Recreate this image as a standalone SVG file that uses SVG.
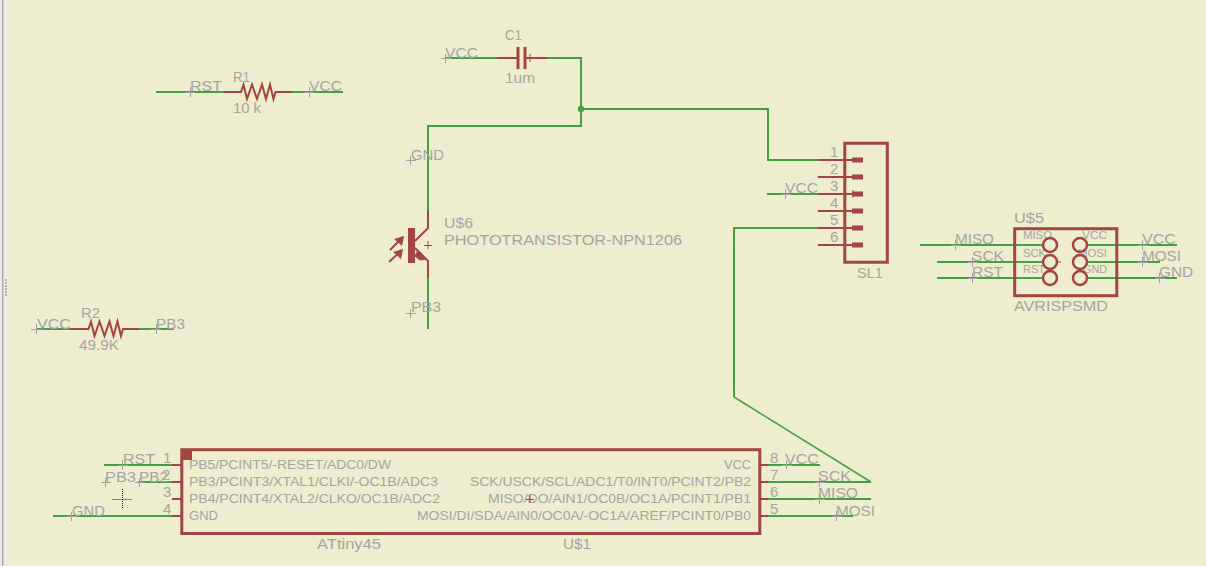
<svg xmlns="http://www.w3.org/2000/svg" width="1206" height="566" viewBox="0 0 1206 566">
<defs><style>
text{font-family:"Liberation Sans",Arial,sans-serif;fill:#a5a5a2;font-size:15px}
.s{font-size:13px}
.x{font-size:11.500px}
.w{fill:none;stroke:#45a045;stroke-width:2}
.t{fill:none;stroke:#45a045;stroke-width:1.6}
.r{fill:none;stroke:#a34640;stroke-width:2}
.b{fill:none;stroke:#a34640;stroke-width:3}
.c{fill:none;stroke:#a3a3a0;stroke-width:1}
.h{fill:none;stroke:#a34640;stroke-width:1}
</style></defs>
<rect width="1206" height="566" fill="#eeedcf"/>
<rect width="9" height="566" fill="#ecebe5"/>
<rect x="2" width="1.4" height="566" fill="#a8a8a8"/>
<path d="M5 279h2v2h-2zM5 282h2v2h-2zM5 285h2v2h-2zM5 288h2v2h-2zM5 291h2v2h-2zM5 294h2v2h-2z" fill="#b5b5b0"/>

<g id="connectors">
<path class="w" d="M445 58H497M547 58H581V126H428V211M581 109H768V160H819M428 278V329"/>
<circle cx="581" cy="109" r="3.200" fill="#45a045"/>
<path class="w" d="M156 92H224M292 92H343M36 329H71M139 329H174"/>
<path class="w" d="M767 194H819"/>
<path class="w" d="M819 228H734V397"/>
<path class="t" d="M734 397L871 482"/>
<path class="w" d="M104 465H172M138 482H172M53 516H172"/>
<path class="w" d="M768 465H820M768 482H871M768 499H871M768 516H853"/>
<path class="w" d="M920 245H1043M937 262H1043M937 278H1043M1087 245H1177M1087 262H1160M1087 278H1177"/>
</g>

<g id="C1">
<path class="r" d="M497 58H518M525 58H547"/>
<path class="b" d="M518 47V69M525 47V69"/>
<path class="h" d="M530 54V62"/>
<text x="505" y="40" textLength="17" lengthAdjust="spacingAndGlyphs">C1</text>
<text x="505" y="83" textLength="30" lengthAdjust="spacingAndGlyphs">1um</text>
<text x="445" y="58" textLength="33" lengthAdjust="spacingAndGlyphs">VCC</text>
<path class="c" d="M441 58.500H451M445.500 54V63"/>
</g>

<g id="R1">
<path class="r" d="M224 92H241L243.500 84.500L247 99L252 84.500L257 99L262 84.500L266 99L270 84.500L273.500 99L275.500 92H292"/>
<text x="233" y="82" textLength="17" lengthAdjust="spacingAndGlyphs">R1</text>
<text x="233" y="113" textLength="28" lengthAdjust="spacingAndGlyphs">10 k</text>
<text x="190" y="91" textLength="32" lengthAdjust="spacingAndGlyphs">RST</text>
<text x="309" y="91" textLength="33" lengthAdjust="spacingAndGlyphs">VCC</text>
<path class="c" d="M190.500 87V97M185 92.500H195M309.500 87V97M304 92.500H314"/>
</g>

<g id="R2">
<path class="r" d="M71 329H88.500L91 321.500L94.500 336L99.500 321.500L104.500 336L109.500 321.500L113.500 336L117.500 321.500L121 336L123 329H139"/>
<text x="81" y="318" textLength="19" lengthAdjust="spacingAndGlyphs">R2</text>
<text x="79" y="350" textLength="40" lengthAdjust="spacingAndGlyphs">49.9K</text>
<text x="37" y="328.500" textLength="34" lengthAdjust="spacingAndGlyphs">VCC</text>
<text x="156" y="328.500" textLength="29" lengthAdjust="spacingAndGlyphs">PB3</text>
<path class="c" d="M36.500 324V334M31 329.500H41M156.500 324V334M151 329.500H161"/>
</g>

<g id="U6">
<path class="r" d="M428 211V228L415 241M415 248L428 261V278"/>
<rect x="408" y="228" width="7" height="35" fill="#a34640"/>
<path d="M418 250L426 259L420 260L415 256Z" fill="#a34640" stroke="#a34640"/>
<path class="r" d="M390 250L403 237M389 262L402 250"/>
<path d="M404 236L402 246L394 239ZM403 249L401 259L393 252Z" fill="#a34640"/>
<path class="h" d="M428 241V249M424 245.500H432"/>
<text x="444" y="228" textLength="29" lengthAdjust="spacingAndGlyphs">U$6</text>
<text x="444" y="245" textLength="238" lengthAdjust="spacingAndGlyphs">PHOTOTRANSISTOR-NPN1206</text>
<text x="411" y="160" textLength="33" lengthAdjust="spacingAndGlyphs">GND</text>
<text x="411" y="312" textLength="30" lengthAdjust="spacingAndGlyphs">PB3</text>
<path class="c" d="M410.500 156V165M406 160.500H416M410.500 309V318M406 313.500H416"/>
</g>

<g id="SL1">
<path class="b" d="M844.800 143.300H887.300V262.300H844.800Z"/>
<path class="r" d="M818 160H852M818 177H852M818 194H852M818 211H852M818 228H852M818 245H852"/>
<path d="M852 157.500h11v5h-11zM852 174.500h11v5h-11zM852 191.500h11v5h-11zM852 208.500h11v5h-11zM852 225.500h11v5h-11zM852 242.500h11v5h-11z" fill="#a34640"/>
<path class="h" d="M853 190V198"/>
<text x="830" y="157">1</text><text x="830" y="174">2</text><text x="830" y="191">3</text><text x="830" y="208">4</text><text x="830" y="225">5</text><text x="830" y="242">6</text>
<text x="857" y="278" textLength="26" lengthAdjust="spacingAndGlyphs">SL1</text>
<text x="785" y="193" textLength="33" lengthAdjust="spacingAndGlyphs">VCC</text>
<path class="c" d="M785.500 189V199M781 194.500H791"/>
</g>

<g id="U5">
<rect x="1014.700" y="228.700" width="102.100" height="67" class="b"/>
<text class="x" x="1023" y="239" textLength="29" lengthAdjust="spacingAndGlyphs">MISO</text>
<text class="x" x="1023" y="256.500" textLength="23" lengthAdjust="spacingAndGlyphs">SCK</text>
<text class="x" x="1023" y="273" textLength="22" lengthAdjust="spacingAndGlyphs">RST</text>
<text class="x" x="1082" y="239" textLength="25" lengthAdjust="spacingAndGlyphs">VCC</text>
<text class="x" x="1078" y="256.500" textLength="29" lengthAdjust="spacingAndGlyphs">MOSI</text>
<text class="x" x="1083" y="273" textLength="24" lengthAdjust="spacingAndGlyphs">GND</text>
<g fill="none" stroke="#a34640" stroke-width="2.500">
<circle cx="1050" cy="245" r="7"/><circle cx="1050" cy="262" r="7"/><circle cx="1050" cy="278" r="7"/>
<circle cx="1080" cy="245" r="7"/><circle cx="1080" cy="262" r="7"/><circle cx="1080" cy="278" r="7"/>
</g>
<path class="h" d="M1056 262H1061"/>
<text x="1014" y="223" textLength="30" lengthAdjust="spacingAndGlyphs">U$5</text>
<text x="1014" y="311" textLength="94" lengthAdjust="spacingAndGlyphs">AVRISPSMD</text>
<text x="955" y="244" textLength="39" lengthAdjust="spacingAndGlyphs">MISO</text>
<text x="972" y="261" textLength="32" lengthAdjust="spacingAndGlyphs">SCK</text>
<text x="972" y="277" textLength="31" lengthAdjust="spacingAndGlyphs">RST</text>
<text x="1142" y="244" textLength="34" lengthAdjust="spacingAndGlyphs">VCC</text>
<text x="1142" y="261" textLength="39" lengthAdjust="spacingAndGlyphs">MOSI</text>
<text x="1159" y="277" textLength="34" lengthAdjust="spacingAndGlyphs">GND</text>
<path class="c" d="M955.500 240V250M951 245.500H961M972.500 257V267M968 262.500H978M972.500 273V283M968 278.500H978M1142.500 240V250M1138 245.500H1148M1142.500 257V267M1138 262.500H1148M1159.500 273V283M1155 278.500H1165"/>
</g>

<g id="U1">
<rect x="181.800" y="449.700" width="578" height="83.800" class="b"/>
<rect x="181" y="450" width="11" height="10" fill="#a34640"/>
<path class="r" d="M172 465H181M172 482H181M172 499H181M172 516H181M760 465H768M760 482H768M760 499H768M760 516H768"/>
<g>
<text class="s" x="189" y="469" textLength="202" lengthAdjust="spacingAndGlyphs">PB5/PCINT5/-RESET/ADC0/DW</text>
<text class="s" x="189" y="486" textLength="249" lengthAdjust="spacingAndGlyphs">PB3/PCINT3/XTAL1/CLKI/-OC1B/ADC3</text>
<text class="s" x="189" y="503" textLength="251" lengthAdjust="spacingAndGlyphs">PB4/PCINT4/XTAL2/CLKO/OC1B/ADC2</text>
<text class="s" x="189" y="520" textLength="29" lengthAdjust="spacingAndGlyphs">GND</text>
<text class="s" x="724" y="469" textLength="27" lengthAdjust="spacingAndGlyphs">VCC</text>
<text class="s" x="470" y="486" textLength="281" lengthAdjust="spacingAndGlyphs">SCK/USCK/SCL/ADC1/T0/INT0/PCINT2/PB2</text>
<text class="s" x="488" y="503" textLength="263" lengthAdjust="spacingAndGlyphs">MISO/DO/AIN1/OC0B/OC1A/PCINT1/PB1</text>
<text class="s" x="417" y="520" textLength="334" lengthAdjust="spacingAndGlyphs">MOSI/DI/SDA/AIN0/OC0A/-OC1A/AREF/PCINT0/PB0</text>
</g>
<path class="h" d="M530 495V503M526 499.500H534"/>
<text x="317" y="549" textLength="64" lengthAdjust="spacingAndGlyphs">ATtiny45</text>
<text x="563" y="549" textLength="28" lengthAdjust="spacingAndGlyphs">U$1</text>
<text x="163" y="463">1</text><text x="162" y="480">2</text><text x="163" y="497">3</text><text x="163" y="514">4</text>
<text x="770" y="463">8</text><text x="770" y="480">7</text><text x="770" y="497">6</text><text x="770" y="514">5</text>
<text x="123" y="464" textLength="32" lengthAdjust="spacingAndGlyphs">RST</text>
<text x="105" y="481.500" textLength="31" lengthAdjust="spacingAndGlyphs">PB3</text>
<text x="139" y="481.500" textLength="29" lengthAdjust="spacingAndGlyphs">PB2</text>
<text x="72" y="516" textLength="33" lengthAdjust="spacingAndGlyphs">GND</text>
<text x="785" y="464" textLength="34" lengthAdjust="spacingAndGlyphs">VCC</text>
<text x="818" y="481" textLength="33" lengthAdjust="spacingAndGlyphs">SCK</text>
<text x="818" y="498" textLength="40" lengthAdjust="spacingAndGlyphs">MISO</text>
<text x="836" y="515.500" textLength="39" lengthAdjust="spacingAndGlyphs">MOSI</text>
<path class="c" d="M122.500 460V470M118 465.500H128M105.500 478V487M101 482.500H111M139.500 478V487M135 482.500H145M71.500 512V521M67 516.500H77M786.500 460V469M782 465.500H792M819.500 477V487M815 482.500H825M819.500 494V504M815 499.500H825M836.500 511V521M832 516.500H842"/>
</g>
<path d="M122.500 489V509M112.500 499.500H132.500" fill="none" stroke="#222" stroke-width="1" stroke-dasharray="1 1"/>
</svg>
